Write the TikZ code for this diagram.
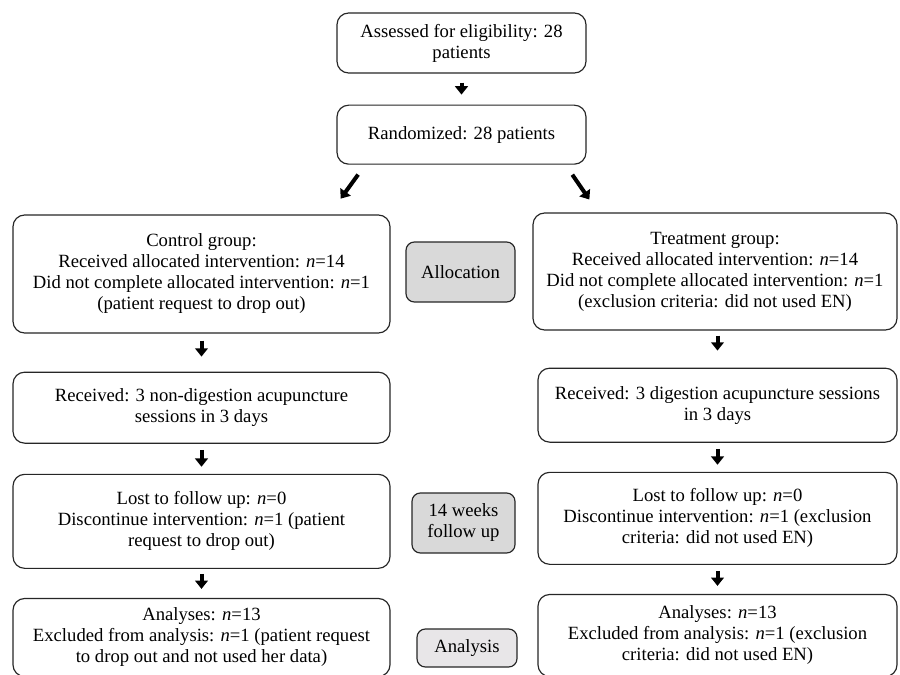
\documentclass[tikz,border=0pt]{standalone}
\usepackage{fontspec}
\setmainfont{Liberation Serif}
\usetikzlibrary{arrows.meta,positioning}

\definecolor{stagegray}{HTML}{D9D9D9}
\definecolor{lightstage}{HTML}{E8E6E8}
\tikzset{
  flowbox/.style={draw=black!85, line width=0.7pt, rounded corners=7pt, align=center, fill=white, inner sep=1pt, font=\fontsize{11.2}{12.6}\selectfont},
  stagebox/.style={flowbox, rounded corners=5pt, fill=stagegray},
  fatarrow/.style={line width=2.4pt, -{Triangle[width=7.6pt,length=5pt]}},
}

\begin{document}
\begin{tikzpicture}[x=0.6pt, y=-0.6pt]
  \useasboundingbox (0,0) rectangle (900,675);
  \node[flowbox, minimum width=149.4pt, minimum height=36pt] (assess) at (461.5,43) {Assessed for eligibility: 28\\patients};
  \node[flowbox, minimum width=149.4pt, minimum height=35.4pt, below=18.6pt of assess] (rand) {Randomized: 28 patients};
  \draw[fatarrow, shorten <=5.4pt, shorten >=6pt] (assess) -- (rand);

  \node[flowbox, minimum width=226.2pt, minimum height=70.8pt] (ctrl) at (201.5,274) {Control group:\\Received allocated intervention: \textit{n}=14\\Did not complete allocated intervention: \textit{n}=1\\(patient request to drop out)};
  \node[flowbox, minimum width=218.4pt, minimum height=70.2pt] (treat) at (715,271.5) {Treatment group:\\Received allocated intervention: \textit{n}=14\\Did not complete allocated intervention: \textit{n}=1\\(exclusion criteria: did not used EN)};
  \draw[fatarrow, shorten <=7.3pt, shorten >=11.7pt] ([xshift=17.3pt]rand.south west) -- ([xshift=190.1pt]ctrl.north west);
  \draw[fatarrow, shorten <=7.25pt, shorten >=9.4pt] ([xshift=-12.66pt]rand.south east) -- ([xshift=39.5pt]treat.north west);
  \node[stagebox, minimum width=65.4pt, minimum height=36pt] (alloc) at (460.5,272) {Allocation};

  \node[flowbox, minimum width=226.2pt, minimum height=42.6pt, below=22.8pt of ctrl] (ctrlrec) {Received: 3 non-digestion acupuncture\\sessions in 3 days};
  \node[flowbox, minimum width=215.4pt, minimum height=44.4pt, below=22.2pt of treat, xshift=1.5pt] (treatrec) {Received: 3 digestion acupuncture sessions\\in 3 days};
  \draw[fatarrow, shorten <=4.2pt, shorten >=9pt] (ctrl) -- (ctrlrec);
  \draw[fatarrow, shorten <=3pt, shorten >=10.2pt] (treat.south -| treatrec) -- (treatrec);

  \node[flowbox, minimum width=226.2pt, minimum height=56.4pt, below=18pt of ctrlrec] (ctrllost) {Lost to follow up: \textit{n}=0\\Discontinue intervention: \textit{n}=1 (patient\\request to drop out)};
  \node[flowbox, minimum width=215.4pt, minimum height=55.2pt, below=17.4pt of treatrec] (treatlost) {Lost to follow up: \textit{n}=0\\Discontinue intervention: \textit{n}=1 (exclusion\\criteria: did not used EN)};
  \draw[fatarrow, shorten <=3.6pt, shorten >=4.2pt] (ctrlrec) -- (ctrllost);
  \draw[fatarrow, shorten <=3.6pt, shorten >=4.2pt] (treatrec) -- (treatlost);
  \node[stagebox, minimum width=61.8pt, minimum height=36pt] (follow) at (463.5,523) {14 weeks\\follow up};

  \node[flowbox, minimum width=226.2pt, minimum height=46.8pt, below=17.4pt of ctrllost] (ctrlana) {Analyses: \textit{n}=13\\Excluded from analysis: \textit{n}=1 (patient request\\to drop out and not used her data)};
  \node[flowbox, minimum width=215.4pt, minimum height=49.2pt, below=17.4pt of treatlost] (treatana) {Analyses: \textit{n}=13\\Excluded from analysis: \textit{n}=1 (exclusion\\criteria: did not used EN)};
  \draw[fatarrow, shorten <=3pt, shorten >=5.4pt] (ctrllost) -- (ctrlana);
  \draw[fatarrow, shorten <=3.6pt, shorten >=4.8pt] (treatlost) -- (treatana);
  \node[stagebox, fill=lightstage, minimum width=60pt, minimum height=22.8pt] (ana) at (467,648) {Analysis};
\end{tikzpicture}
\end{document}
